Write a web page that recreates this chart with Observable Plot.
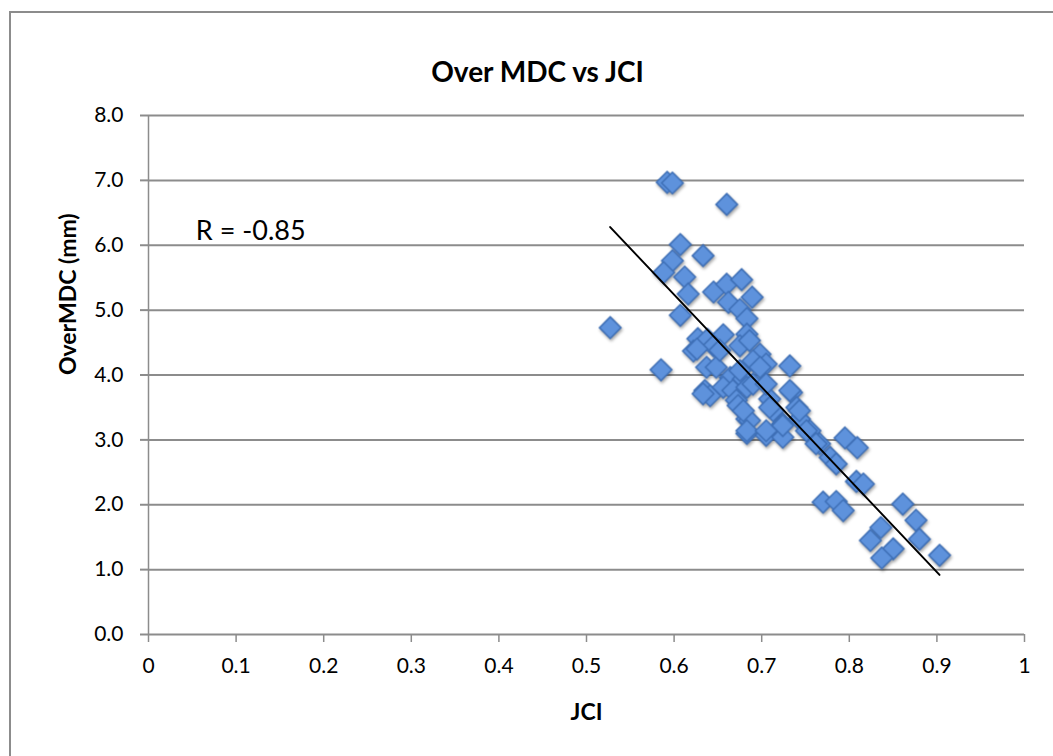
<!DOCTYPE html>
<html>
<head>
<meta charset="utf-8">
<script src="https://cdn.jsdelivr.net/npm/d3@7"></script>
<script src="https://cdn.jsdelivr.net/npm/@observablehq/plot@0.6"></script>
<style>
  html, body { margin: 0; padding: 0; background: #fff; }
  #wrap { position: relative; width: 1053px; height: 756px; overflow: hidden; }
  #frame { position: absolute; left: 9px; top: 11px; width: 1100px; height: 800px; border-left: 2px solid #8c8c8c; border-top: 2px solid #8c8c8c; box-sizing: border-box; }
  #chart { position: absolute; left: 0; top: 0; }
  g[aria-label="dot"] { filter: drop-shadow(1px 2px 1.5px rgba(0,0,0,0.35)); }
  g[aria-label="y-axis tick label"], g[aria-label="x-axis tick label"] { font-size: 21px; }
</style>
</head>
<body>
<div id="wrap"><div id="frame"></div><div id="chart"></div></div>
<script>
const jci = [0.592,0.598,0.660,0.607,0.633,0.598,0.588,0.612,0.616,0.607,0.527,0.645,0.660,0.677,0.662,0.675,0.689,0.683,
  0.627,0.638,0.656,0.683,0.622,0.645,0.675,0.686,0.698,0.585,0.637,0.648,0.664,0.679,0.675,0.690,0.705,0.732,
  0.635,0.641,0.656,0.667,0.683,0.690,0.671,0.673,0.709,0.734,0.740,0.683,0.713,0.724,0.683,0.705,0.724,0.743,
  0.755,0.766,0.795,0.809,0.778,0.785,0.808,0.816,0.652,0.626,0.698,0.705,0.709,0.686,0.751,0.743,0.762,
  0.770,0.785,0.793,0.861,0.876,0.836,0.824,0.880,0.850,0.837,0.903,0.679,0.633,0.683,0.705,0.724,0.732];
const overMDC = [6.97,6.96,6.63,6.01,5.84,5.76,5.58,5.51,5.25,4.92,4.73,5.28,5.40,5.47,5.12,5.01,5.20,4.87,
  4.56,4.55,4.62,4.63,4.37,4.45,4.45,4.53,4.32,4.08,4.12,4.12,3.96,3.94,4.07,4.22,4.17,4.14,
  3.76,3.68,3.81,3.76,3.81,3.86,3.61,3.53,3.63,3.73,3.50,3.32,3.45,3.25,3.10,3.07,3.04,3.32,
  3.14,2.94,3.03,2.88,2.73,2.63,2.36,2.32,4.38,4.40,4.12,3.86,3.50,3.30,3.14,3.45,2.94,
  2.04,2.05,1.91,2.01,1.76,1.65,1.45,1.47,1.32,1.18,1.22,3.45,3.71,3.14,3.14,3.22,3.76];
const trendJCI = [0.527, 0.903];
const trendMDC = [6.28, 0.92];
const xTicks = [0,0.1,0.2,0.3,0.4,0.5,0.6,0.7,0.8,0.9,1];
const yTicks = [0,1,2,3,4,5,6,7,8];
const titleText = "Over MDC vs JCI";
const xLabel = "JCI";
const yLabel = "OverMDC (mm)";
const rLabel = "R = -0.85";
const rPos = {x: 0.054, y: 6.22};

const points = jci.map((x, i) => ({x, y: overMDC[i]}));
const trend = trendJCI.map((x, i) => ({x, y: trendMDC[i]}));
const font = "Lato, 'Open Sans', sans-serif";
const grey = "#8c8c8c";

const chart = Plot.plot({
  width: 1053, height: 756,
  marginLeft: 148, marginRight: 29, marginTop: 115, marginBottom: 122,
  style: {fontFamily: font, fontSize: "21px", color: "#000", background: "transparent"},
  x: {domain: [0, 1]},
  y: {domain: [0, 8]},
  marks: [
    Plot.ruleY(yTicks.filter(d => d > 0), {stroke: grey, strokeWidth: 2, x1: 0, x2: 1}),
    Plot.axisY(yTicks, {tickSize: 8, tickPadding: 17, tickFormat: d => d.toFixed(1), stroke: grey, strokeWidth: 2, label: null, fontSize: 21}),
    Plot.ruleX([0], {stroke: grey, strokeWidth: 1.5}),
    Plot.ruleY([0], {stroke: grey, strokeWidth: 2}),
    Plot.axisX(xTicks, {tickSize: 8, tickPadding: 16, tickFormat: d => String(+d.toFixed(1)), stroke: grey, strokeWidth: 1.5, label: null, fontSize: 21}),
    Plot.dot(points, {x: "x", y: "y", symbol: "diamond2", r: 9.7, fill: "#5e92dc", stroke: "#3e6fb6", strokeWidth: 1.5}),
    Plot.line(trend, {x: "x", y: "y", stroke: "#000", strokeWidth: 2}),
    Plot.text([rLabel], {x: rPos.x, y: rPos.y, textAnchor: "start", fontSize: 27}),
    Plot.text([xLabel], {frameAnchor: "bottom", dy: 85, fontWeight: "bold", fontSize: 23}),
    Plot.text([yLabel], {frameAnchor: "left", dx: -80, rotate: -90, fontWeight: "bold", fontSize: 23}),
    Plot.text([titleText], {frameAnchor: "top", dy: -53, dx: -49, fontWeight: "bold", fontSize: 28})
  ]
});
document.getElementById("chart").appendChild(chart);
</script>
</body>
</html>
